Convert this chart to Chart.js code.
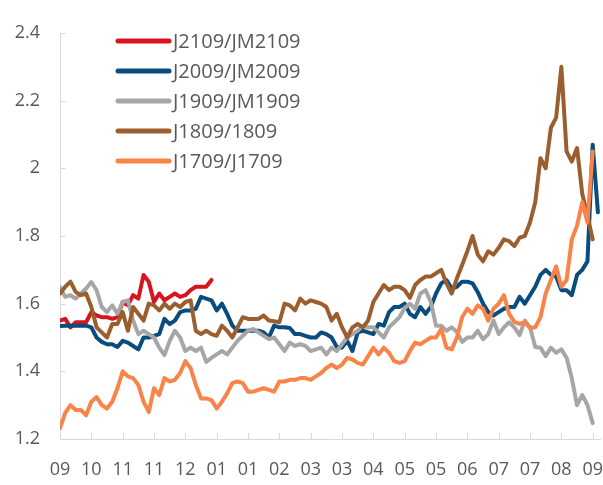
<!DOCTYPE html>
<html>
<head>
<meta charset="utf-8">
<script src="https://cdn.jsdelivr.net/npm/chart.js@4.4.1/dist/chart.umd.min.js"></script>
<style>
  html, body { margin: 0; padding: 0; background: #fff; }
  #wrap { width: 603px; height: 485px; }
</style>
</head>
<body>
<div id="wrap"><canvas id="spreadChart"></canvas></div>
<script>
// месяцы под делениями оси X (одно деление = 6 точек)
var monthLabels = ['09', '10', '11', '11', '12', '01', '01', '02', '03', '03', '04', '05', '05', '06', '07', '07', '08', '09'];
var pointsPerTick = 6;

var seriesNames = ['J2109/JM2109', 'J2009/JM2009', 'J1909/JM1909', 'J1809/1809', 'J1709/J1709'];

var j2109 = [1.55, 1.555, 1.53, 1.545, 1.545, 1.545, 1.575, 1.565, 1.56, 1.56, 1.555, 1.56, 1.605, 1.595, 1.625, 1.615,
  1.685, 1.665, 1.605, 1.63, 1.61, 1.62, 1.63, 1.62, 1.625, 1.64, 1.65, 1.65, 1.65, 1.67];

var j2009 = [1.534, 1.535, 1.535, 1.535, 1.535, 1.535, 1.53, 1.50, 1.487, 1.48, 1.48, 1.472, 1.49, 1.485, 1.475, 1.465,
  1.50, 1.50, 1.505, 1.51, 1.555, 1.54, 1.55, 1.575, 1.58, 1.58, 1.585, 1.62, 1.615, 1.61,
  1.58, 1.60, 1.57, 1.535, 1.52, 1.52, 1.52, 1.52, 1.52, 1.515, 1.50, 1.535, 1.53, 1.53, 1.528, 1.51,
  1.51, 1.505, 1.50, 1.50, 1.515, 1.51, 1.50, 1.472, 1.47, 1.49, 1.46, 1.515, 1.52, 1.515, 1.51,
  1.54, 1.535, 1.575, 1.59, 1.59, 1.60, 1.57, 1.56, 1.59, 1.57, 1.59, 1.63, 1.66, 1.67, 1.645,
  1.65, 1.665, 1.665, 1.66, 1.634, 1.60, 1.575, 1.565, 1.575, 1.585, 1.59, 1.59, 1.62, 1.60, 1.625,
  1.65, 1.685, 1.70, 1.685, 1.68, 1.64, 1.64, 1.625, 1.685, 1.70, 1.725, 2.07, 1.87];

var j1909 = [1.649, 1.62, 1.625, 1.615, 1.63, 1.645, 1.664, 1.64, 1.59, 1.575, 1.595, 1.57, 1.605, 1.61, 1.55, 1.51,
  1.52, 1.51, 1.50, 1.47, 1.448, 1.49, 1.52, 1.50, 1.46, 1.47, 1.46, 1.47, 1.428, 1.44,
  1.45, 1.46, 1.45, 1.47, 1.49, 1.505, 1.52, 1.525, 1.515, 1.505, 1.495, 1.50, 1.48, 1.46, 1.485, 1.475,
  1.48, 1.475, 1.46, 1.465, 1.47, 1.45, 1.47, 1.46, 1.48, 1.50, 1.51, 1.52, 1.535, 1.53, 1.53,
  1.515, 1.50, 1.53, 1.545, 1.56, 1.587, 1.60, 1.585, 1.63, 1.64, 1.605, 1.535, 1.535, 1.52, 1.53,
  1.516, 1.487, 1.50, 1.50, 1.52, 1.495, 1.51, 1.55, 1.51, 1.53, 1.545, 1.53, 1.507, 1.55, 1.53,
  1.472, 1.47, 1.445, 1.47, 1.455, 1.465, 1.44, 1.38, 1.30, 1.33, 1.30, 1.247];

var j1809 = [1.63, 1.65, 1.665, 1.635, 1.625, 1.63, 1.59, 1.53, 1.515, 1.50, 1.54, 1.54, 1.575, 1.52, 1.59, 1.57,
  1.55, 1.60, 1.595, 1.58, 1.60, 1.585, 1.60, 1.59, 1.605, 1.61, 1.52, 1.51, 1.52, 1.51,
  1.505, 1.535, 1.52, 1.50, 1.53, 1.56, 1.555, 1.555, 1.555, 1.565, 1.55, 1.548, 1.545, 1.60, 1.595, 1.58,
  1.615, 1.60, 1.61, 1.605, 1.60, 1.59, 1.55, 1.57, 1.53, 1.50, 1.53, 1.54, 1.53, 1.55, 1.605,
  1.63, 1.655, 1.64, 1.65, 1.65, 1.64, 1.617, 1.655, 1.67, 1.68, 1.68, 1.69, 1.70, 1.66, 1.63,
  1.675, 1.714, 1.755, 1.80, 1.745, 1.725, 1.755, 1.745, 1.765, 1.79, 1.785, 1.77, 1.795, 1.80, 1.84,
  1.90, 2.03, 2.00, 2.12, 2.15, 2.30, 2.05, 2.02, 2.06, 1.925, 1.86, 1.79];

var j1709 = [1.232, 1.277, 1.30, 1.286, 1.286, 1.27, 1.31, 1.324, 1.30, 1.29, 1.31, 1.35, 1.40, 1.385, 1.38, 1.36,
  1.31, 1.28, 1.35, 1.33, 1.38, 1.37, 1.375, 1.395, 1.43, 1.41, 1.36, 1.32, 1.32, 1.315,
  1.29, 1.31, 1.335, 1.365, 1.37, 1.365, 1.34, 1.34, 1.345, 1.35, 1.345, 1.34, 1.37, 1.37, 1.375, 1.375,
  1.38, 1.38, 1.375, 1.385, 1.395, 1.41, 1.42, 1.41, 1.42, 1.44, 1.435, 1.425, 1.42, 1.445, 1.47,
  1.45, 1.47, 1.455, 1.43, 1.425, 1.43, 1.46, 1.485, 1.48, 1.49, 1.50, 1.50, 1.525, 1.47, 1.465,
  1.50, 1.56, 1.585, 1.57, 1.595, 1.585, 1.55, 1.585, 1.60, 1.625, 1.57, 1.546, 1.54, 1.545, 1.528,
  1.53, 1.56, 1.63, 1.67, 1.71, 1.65, 1.67, 1.79, 1.83, 1.90, 1.84, 2.05];

var yTicks = [1.2, 1.4, 1.6, 1.8, 2.0, 2.2, 2.4];

var colors = ['#d7151f', '#0a4c7e', '#a6a6a6', '#9b5f2f', '#f9844a'];
var allSeries = [j2109, j2009, j1909, j1809, j1709];

function toPoints(arr) {
  return arr.map(function (v, i) { return { x: i, y: v }; });
}

var datasets = allSeries.map(function (arr, k) {
  return {
    label: seriesNames[k],
    data: toPoints(arr),
    borderColor: colors[k],
    backgroundColor: colors[k],
    borderWidth: 4,
    pointRadius: 0,
    tension: 0,
    borderJoinStyle: 'round',
    borderCapStyle: 'round',
    order: allSeries.length - k // последний ряд рисуется поверх
  };
});

var axisColor = '#d9d9d9';
var textColor = '#595959';

// короткие засечки внутрь области графика
var innerTicks = {
  id: 'innerTicks',
  afterDraw: function (chart) {
    var ctx = chart.ctx, xs = chart.scales.x, ys = chart.scales.y;
    ctx.save();
    ctx.strokeStyle = axisColor;
    ctx.lineWidth = 1;
    ctx.beginPath();
    xs.ticks.forEach(function (t) {
      var px = Math.round(xs.getPixelForValue(t.value)) + 0.5;
      ctx.moveTo(px, ys.bottom);
      ctx.lineTo(px, ys.bottom - 6);
    });
    ys.ticks.forEach(function (t) {
      var py = Math.round(ys.getPixelForValue(t.value)) + 0.5;
      ctx.moveTo(xs.left, py);
      ctx.lineTo(xs.left + 6, py);
    });
    ctx.stroke();
    ctx.restore();
  }
};

// легенда в левом верхнем углу области графика
var innerLegend = {
  id: 'innerLegend',
  afterDraw: function (chart) {
    var ctx = chart.ctx;
    ctx.save();
    ctx.font = '20px "Open Sans"';
    ctx.textBaseline = 'middle';
    ctx.fillStyle = textColor;
    chart.data.datasets.forEach(function (ds, k) {
      var y = 41 + k * 30;
      ctx.strokeStyle = ds.borderColor;
      ctx.lineWidth = 5;
      ctx.lineCap = 'round';
      ctx.beginPath();
      ctx.moveTo(118, y);
      ctx.lineTo(169, y);
      ctx.stroke();
      ctx.fillText(ds.label, 173, y + 1);
    });
    ctx.restore();
  }
};

var ctx = document.getElementById('spreadChart').getContext('2d');
var spreadChart = new Chart(ctx, {
  type: 'line',
  data: { datasets: datasets },
  plugins: [innerTicks, innerLegend],
  options: {
    responsive: true,
    maintainAspectRatio: false,
    animation: false,
    layout: { padding: { top: 33, right: 3, left: 0, bottom: 0 } },
    plugins: {
      legend: { display: false },
      tooltip: { enabled: false }
    },
    scales: {
      x: {
        type: 'linear',
        min: 0,
        max: 103.4,
        grid: { display: false },
        border: { display: true, color: axisColor, width: 1 },
        afterBuildTicks: function (scale) {
          scale.ticks = monthLabels.map(function (m, i) { return { value: i * pointsPerTick }; });
        },
        afterFit: function (scale) {
          scale.height = 46;
          scale.paddingLeft = 0;
          scale.paddingRight = 0;
        },
        ticks: {
          autoSkip: false,
          maxRotation: 0,
          padding: 12,
          color: textColor,
          font: { family: 'Open Sans', size: 18 },
          callback: function (v) { return monthLabels[Math.round(v / pointsPerTick)]; }
        }
      },
      y: {
        min: 1.2,
        max: 2.4,
        grid: { display: false },
        border: { display: true, color: axisColor, width: 1 },
        afterBuildTicks: function (scale) {
          scale.ticks = yTicks.map(function (v) { return { value: v }; });
        },
        afterFit: function (scale) {
          scale.width = 60;
          scale.paddingTop = 0;
          scale.paddingBottom = 0;
        },
        ticks: {
          padding: 12,
          color: textColor,
          font: { family: 'Open Sans', size: 18 },
          callback: function (v) { return String(+v.toFixed(1)); }
        }
      }
    }
  }
});
</script>
</body>
</html>
